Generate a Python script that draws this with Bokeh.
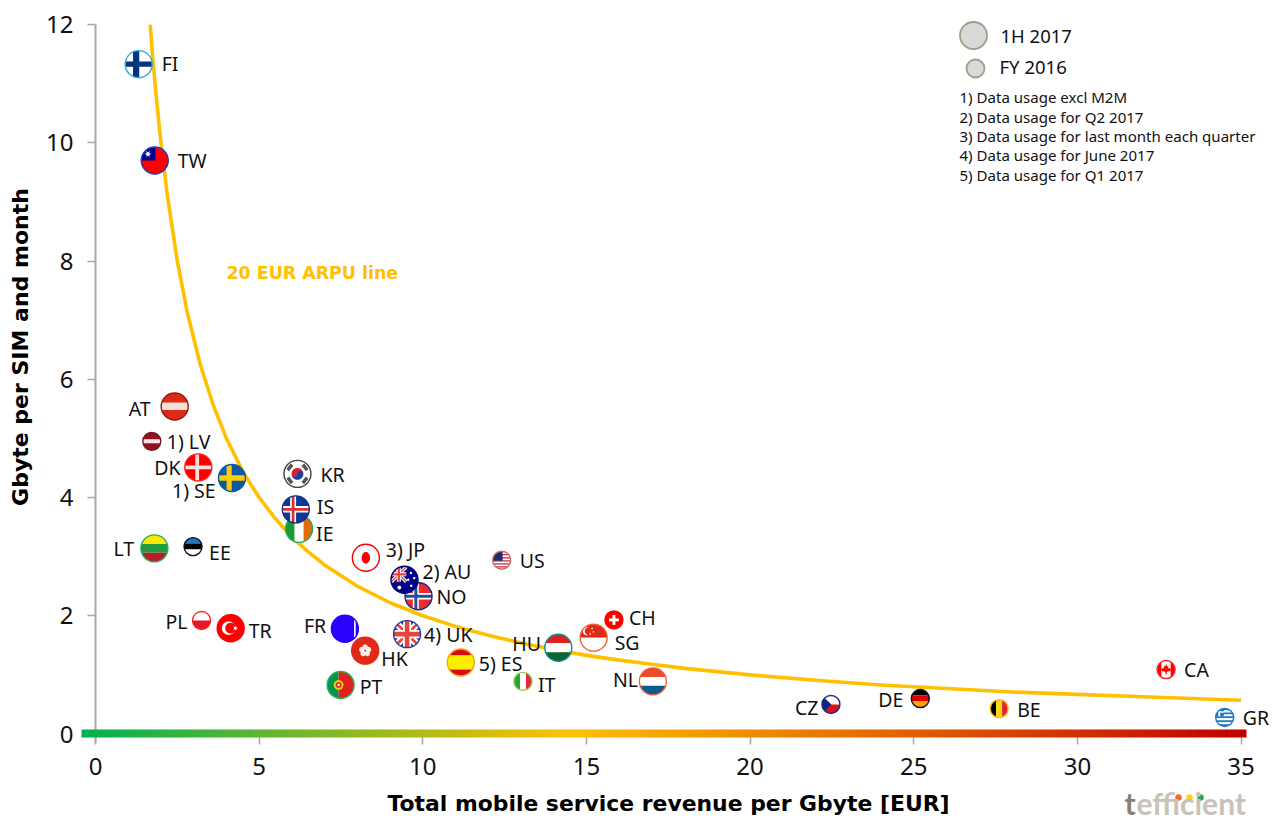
import math
from bokeh.plotting import figure
from bokeh.models import Label, Range1d, FixedTicker
from bokeh.core.properties import value
from bokeh.embed import file_html
from bokeh.resources import INLINE

# ---------- data ----------
countries = ["FI","TW","AT","LV","DK","SE","KR","IE","IS","LT","EE","JP","NO","AU","US","PL","TR","FR","HK","UK",
             "ES","PT","IT","HU","SG","CH","NL","CZ","DE","BE","CA","GR"]
revenue_per_gb = [1.32,1.81,2.42,1.72,3.14,4.17,6.17,6.22,6.12,1.80,2.98,8.26,9.87,9.44,12.41,3.24,4.13,7.62,8.24,9.52,
                  11.16,7.49,13.06,14.14,15.22,15.84,17.03,22.47,25.20,27.61,32.71,34.50]
gb_per_sim = [11.33,9.70,5.54,4.95,4.51,4.33,4.40,3.47,3.80,3.14,3.17,2.98,2.33,2.61,2.94,1.92,1.79,1.78,1.41,1.69,
              1.21,0.83,0.89,1.46,1.63,1.93,0.89,0.50,0.60,0.43,1.09,0.28]
period = ["H","H","H","F","H","H","H","H","H","H","F","H","H","H","F","F","H","H","H","H",
          "H","H","F","H","H","F","H","F","F","F","F","F"]
label_texts = {"LV":"1) LV","SE":"1) SE","JP":"3) JP","AU":"2) AU","UK":"4) UK","ES":"5) ES"}
arpu_x = [1.67,1.75,1.85,2,2.2,2.5,2.8,3.2,3.6,4,4.5,5,5.5,6,6.5,7,8,9,10,11,12,13,14,15,16,17,18,20,22,24,26,28,30,32,35]
arpu_y = [12,11.43,10.81,10,9.09,8,7.14,6.25,5.56,5,4.44,4,3.64,3.33,3.08,2.86,2.5,2.22,2,1.82,1.67,1.54,1.43,1.33,1.25,
          1.18,1.11,1,0.91,0.83,0.77,0.71,0.67,0.63,0.57]
x_ticks = [0,5,10,15,20,25,30,35]
y_ticks = [0,2,4,6,8,10,12]
notes = ["1) Data usage excl M2M","2) Data usage for Q2 2017","3) Data usage for last month each quarter",
         "4) Data usage for June 2017","5) Data usage for Q1 2017"]

# ---------- layout ----------
W, H = 1277, 821
X0, SX = 95.0, 32.73      # pixel of x=0, px per unit
Y0, SY = 733.5, 59.12     # pixel of y=0, px per unit
FONT = "Noto Sans"
px2x = lambda px: (px - X0) / SX
px2y = lambda py: (Y0 - py) / SY

# label position (left edge, centre line) relative to the marker, in px
label_off = {"FI":(23,-1),"TW":(23,0),"AT":(-46,2),"LV":(15,0.5),"DK":(-44,0.5),"SE":(-60,12),"KR":(23,1),"IE":(17,4.5),"IS":(21,-3),
             "LT":(-41,0),"EE":(16,6),"JP":(20,-8),"NO":(18,0),"AU":(18,-8),"US":(18,0),"PL":(-36,1),"TR":(18,2),"FR":(-41,-3),
             "HK":(16,8),"UK":(17,0),"ES":(18,1.5),"PT":(19,2),"IT":(15,3),"HU":(-46,-4),"SG":(21,5),"CH":(15,-2),"NL":(-40,-2),
             "CZ":(-36,3),"DE":(-42,1),"BE":(18,1),"CA":(18,0),"GR":(18,0)}

# ---------- flag drawing helpers (unit circle coordinates) ----------
def rect(u0,v0,u1,v1): return [(u0,v0),(u1,v0),(u1,v1),(u0,v1)]
def disc(cu,cv,r,n=36,rv=None):
    rv = r if rv is None else rv
    return [(cu+r*math.cos(2*math.pi*i/n),cv+rv*math.sin(2*math.pi*i/n)) for i in range(n)]
def band(a,b,w):
    dx,dy=b[0]-a[0],b[1]-a[1]; l=math.hypot(dx,dy); nx,ny=-dy/l*w,dx/l*w
    return [(a[0]+nx,a[1]+ny),(b[0]+nx,b[1]+ny),(b[0]-nx,b[1]-ny),(a[0]-nx,a[1]-ny)]
def star(cu,cv,r,k=5):
    return [(cu+(r if i%2==0 else r*.42)*math.cos(math.pi*i/k),cv+(r if i%2==0 else r*.42)*math.sin(math.pi*i/k)) for i in range(2*k)]
def hbands(cols,edges):
    return [(c,rect(-1.1,edges[i+1],1.1,edges[i])) for i,c in enumerate(cols)]
def vbands(cols,edges):
    return [(c,rect(edges[i],-1.1,edges[i+1],1.1)) for i,c in enumerate(cols)]
def cross(bg,vu0,vu1,hw,col,inner=None,iw=0):
    out=[(bg,rect(-1.1,-1.1,1.1,1.1)),(col,rect(vu0,-1.1,vu1,1.1)),(col,rect(-1.1,-hw,1.1,hw))]
    if inner:
        m=(vu0+vu1)/2
        out+=[(inner,rect(m-iw,-1.1,m+iw,1.1)),(inner,rect(-1.1,-iw,1.1,iw))]
    return out
def jack(f=lambda u,v:(u,v),bg="#1B3A93"):
    m=lambda poly:[f(u,v) for u,v in poly]
    return [(bg,m(rect(-1.1,-1.1,1.1,1.1))),
            ("#FFFFFF",m(band((-1.1,-1.1),(1.1,1.1),.26))),("#FFFFFF",m(band((-1.1,1.1),(1.1,-1.1),.26))),
            ("#E8453C",m(band((-1.1,-1.1),(1.1,1.1),.1))),("#E8453C",m(band((-1.1,1.1),(1.1,-1.1),.1))),
            ("#FFFFFF",m(rect(-.3,-1.1,.3,1.1))),("#FFFFFF",m(rect(-1.1,-.3,1.1,.3))),
            ("#E8453C",m(rect(-.17,-1.1,.17,1.1))),("#E8453C",m(rect(-1.1,-.17,1.1,.17)))]
aust = lambda u,v:(u*.5-.42,v*.5+.4)
leaf = [(0,.62),(.12,.34),(.26,.42),(.2,.08),(.34,.2),(.56,.02),(.46,-.16),(.08,-.24),(.06,-.55),(-.06,-.55),(-.08,-.24),
        (-.46,-.16),(-.56,.02),(-.34,.2),(-.2,.08),(-.26,.42),(-.12,.34)]

flags = {
 "FI":("#29ABE2",cross("#FFFFFF",-.42,.04,.2,"#003580")),
 "TW":("#1B3FBF",[("#FE0000",rect(-1.1,-1.1,1.1,1.1)),("#000095",rect(-1.1,0,.05,1.1)),("#FFFFFF",star(-.5,.48,.26,6))]),
 "AT":("#8E1C10",hbands(["#DD2A16","#F6E0D8","#DD2A16"],[1.1,.27,-.27,-1.1])),
 "LV":("#7B1420",hbands(["#8E1520","#F5E5E5","#8E1520"],[1.1,.2,-.2,-1.1])),
 "DK":("#FF2020",cross("#FF0000",-.22,.06,.14,"#FBE0E0")),
 "SE":("#0B5AA5",cross("#0B5AA5",-.4,-.02,.2,"#FFCC00")),
 "KR":("#444444",[("#FFFFFF",rect(-1.1,-1.1,1.1,1.1)),("#D5232F",[(u,v) for u,v in disc(0,0,.44) if v>=-.05]),
                  ("#1045A5",[(u,v) for u,v in disc(0,0,.44) if v<=-.0]),("#D5232F",disc(-.2,0,.22)),("#1045A5",disc(.2,-.02,.22)),
                  ("#555555",band((-.72,.28),(-.4,.68),.13)),("#555555",band((.72,.28),(.4,.68),.13)),
                  ("#555555",band((-.72,-.28),(-.4,-.68),.13)),("#555555",band((.72,-.28),(.4,-.68),.13))]),
 "IE":("#22B14C",vbands(["#169B3A","#FFFFFF","#E5690F"],[-1.1,-.33,.33,1.1])),
 "IS":("#12307E",cross("#0A3A99",-.42,.02,.24,"#FFFFFF","#E0312F",.1)),
 "LT":("#27AE60",hbands(["#FDE900","#239B3F","#B81C2B"],[1.1,.33,-.33,-1.1])),
 "EE":("#111111",hbands(["#2472C8","#000000","#FFFFFF"],[1.1,.33,-.33,-1.1])),
 "JP":("#FF0000",[("#FFFFFF",rect(-1.1,-1.1,1.1,1.1)),("#FF0000",disc(0,0,.31,rv=.43))]),
 "NO":("#12307E",cross("#EF2B2D",-.42,.02,.24,"#FFFFFF","#22509C",.11)),
 "AU":("#00007F",[("#00008B",rect(-1.1,-1.1,1.1,1.1))]+jack(aust,"#00008B")+[("#FFFFFF",disc(.48,.5,.09)),("#FFFFFF",disc(.72,.12,.09)),("#FFFFFF",disc(.28,.0,.09)),
                                       ("#FFFFFF",disc(.5,-.45,.09)),("#FFFFFF",disc(-.38,-.58,.14))]),
 "US":("#D06A70",hbands(["#C8303C","#FFFFFF"]*6+["#C8303C"],[1.1,.85,.68,.51,.34,.17,0,-.17,-.34,-.51,-.68,-.85,-.95,-1.1])+[("#1F2A70",rect(-1.1,-.05,.1,1.1))]),
 "PL":("#FF2020",hbands(["#FFFFFF","#E8142E"],[1.1,0,-1.1])),
 "TR":("#FF0000",[("#FF0000",rect(-1.1,-1.1,1.1,1.1)),("#FFFFFF",disc(-.15,0,.5)),("#FF0000",disc(0,0,.4)),("#FFFFFF",star(.35,0,.2))]),
 "FR":("#2A00FF",[("#2A00FF",rect(-1.1,-1.1,1.1,1.1)),("#FFFFFF",rect(.68,-1.1,.8,1.1))]),
 "HK":("#E02A18",[("#E02A18",rect(-1.1,-1.1,1.1,1.1))]+[("#FDEDEA",disc(.26*math.cos(1.57+i*1.2566),.26*math.sin(1.57+i*1.2566),.2)) for i in range(5)]),
 "UK":("#2A3F9C",jack()),
 "ES":("#FFA20A",hbands(["#D80C18","#FFEE00","#D80C18"],[1.1,.52,-.52,-1.1])),
 "PT":("#2EAE5E",vbands(["#00964B","#E0201F"],[-1.1,-.15,1.1])+[("#F2D000",disc(-.15,0,.36)),("#E0201F",disc(-.15,0,.22)),("#FFFFFF",disc(-.15,0,.1))]),
 "IT":("#8CCB4A",vbands(["#1FA83C","#FFFFFF","#E02B36"],[-1.1,-.33,.33,1.1])),
 "HU":("#168C8C",hbands(["#DF1F1F","#FFFFFF","#0B6630"],[1.1,.33,-.33,-1.1])),
 "SG":("#EE6633",hbands(["#E02A18","#FFFFFF"],[1.1,0,-1.1])+[("#FFFFFF",disc(-.5,.48,.3)),("#E02A18",disc(-.38,.48,.28)),
                                                            ("#FFFFFF",disc(-.12,.68,.06)),("#FFFFFF",disc(-.02,.42,.06)),("#FFFFFF",disc(-.26,.28,.06))]),
 "CH":("#FF0000",[("#FF0000",rect(-1.1,-1.1,1.1,1.1)),("#FFFFFF",rect(-.16,-.55,.16,.55)),("#FFFFFF",rect(-.55,-.16,.55,.16))]),
 "NL":("#EE6633",hbands(["#EA4B2D","#FFFFFF","#0B5B8F"],[1.1,.33,-.33,-1.1])),
 "CZ":("#1B2E80",hbands(["#FFFFFF","#D7141A"],[1.1,0,-1.1])+[("#11277E",[(-1.1,1.1),(.05,0),(-1.1,-1.1)])]),
 "DE":("#111111",hbands(["#000000","#DD0000","#FFA500"],[1.1,.33,-.33,-1.1])),
 "BE":("#FDB813",vbands(["#000000","#FFD90C","#E8202E"],[-1.1,-.33,.33,1.1])),
 "CA":("#FF2020",vbands(["#FF0000","#FFFFFF","#FF0000"],[-1.1,-.5,.5,1.1])+[("#FF0000",leaf)]),
 "GR":("#1F78C8",hbands(["#1F78C8","#FFFFFF"]*4+["#1F78C8"],[1.1,.78,.56,.34,.12,-.1,-.32,-.54,-.76,-1.1])+
                [("#1F78C8",rect(-1.1,.12,-.1,1.1)),("#FFFFFF",rect(-.7,.12,-.5,1.1)),("#FFFFFF",rect(-1.1,.52,-.1,.7))]),
}

def clip_poly(poly, r_clip=1.0, n=48):
    """Sutherland-Hodgman clip of a unit polygon to the (polygonal) unit circle."""
    ring=[(r_clip*math.cos(2*math.pi*i/n),r_clip*math.sin(2*math.pi*i/n)) for i in range(n)]
    out=list(poly)
    for i in range(n):
        a,b=ring[i],ring[(i+1)%n]
        inside=lambda p:(b[0]-a[0])*(p[1]-a[1])-(b[1]-a[1])*(p[0]-a[0])>=0
        def isect(p,q):
            d1=(b[0]-a[0])*(p[1]-a[1])-(b[1]-a[1])*(p[0]-a[0])
            d2=(b[0]-a[0])*(q[1]-a[1])-(b[1]-a[1])*(q[0]-a[0])
            t=d1/(d1-d2)
            return (p[0]+t*(q[0]-p[0]),p[1]+t*(q[1]-p[1]))
        res=[]
        for k,p in enumerate(out):
            q=out[(k+1)%len(out)]
            if inside(p):
                res.append(p)
                if not inside(q): res.append(isect(p,q))
            elif inside(q):
                res.append(isect(p,q))
        out=res
        if not out: break
    return out

# ---------- figure ----------
p = figure(width=W, height=H, output_backend="svg", toolbar_location=None,
           x_range=Range1d(px2x(0), px2x(W)), y_range=Range1d(px2y(H), px2y(0)),
           min_border=0, outline_line_color=None, background_fill_color="#FFFFFF")
p.grid.visible = False

TICK_COL = "#A8A8A8"
p.xaxis.fixed_location = 0
p.yaxis.fixed_location = 0
p.xaxis.ticker = FixedTicker(ticks=x_ticks)
p.yaxis.ticker = FixedTicker(ticks=y_ticks)
p.xaxis.bounds = (0, 35)
p.yaxis.bounds = (-0.16, 12)
for ax in (p.xaxis[0], p.yaxis[0]):
    ax.major_tick_in = 0
    ax.minor_tick_line_color = None
    ax.major_tick_line_color = TICK_COL
    ax.major_tick_line_width = 1.5
    ax.major_label_text_font = FONT
    ax.major_label_text_font_size = "24px"
    ax.major_label_text_color = "#111111"
    ax.axis_label_text_font = "DejaVu Sans"
    ax.axis_label_text_font_style = "bold"
    ax.axis_label_text_color = "#000000"
p.xaxis.axis_line_color = None
p.xaxis.major_tick_out = 10
p.xaxis.major_label_standoff = 14
p.xaxis.axis_label = "Total mobile service revenue per Gbyte [EUR]"
p.xaxis.axis_label_text_font_size = "21.9px"
p.xaxis.axis_label_standoff = 12
p.yaxis.axis_line_color = TICK_COL
p.yaxis.axis_line_width = 2
p.yaxis.major_tick_out = 8
p.yaxis.major_label_standoff = 14

# gradient band along the x axis
stops = [(0.0,(0,176,80)),(0.42,(255,192,0)),(1.0,(192,0,0))]
def grad(t):
    for (t0,c0),(t1,c1) in zip(stops,stops[1:]):
        if t<=t1:
            f=(t-t0)/(t1-t0)
            return "#%02X%02X%02X"%tuple(round(a+(b-a)*f) for a,b in zip(c0,c1))
    return "#C00000"
N=233; bl=81.0; br=1246.0; st=(br-bl)/N
p.quad(left=[px2x(bl+i*st) for i in range(N)], right=[px2x(bl+(i+1)*st+(0.5 if i<N-1 else 0)) for i in range(N)],
       bottom=[px2y(737)]*N, top=[px2y(729)]*N, fill_color=[grad((i+.5)/N) for i in range(N)], line_color=None, level="annotation")

# ARPU curve
p.line(arpu_x, arpu_y, line_color="#FFC000", line_width=3.6, line_join="round")

# flags
RB, RS = 13.5, 9.0
for c,x,y,per in zip(countries,revenue_per_gb,gb_per_sim,period):
    r = RB if per=="H" else RS
    ring,parts = flags[c]
    xs,ys,cols=[],[],[]
    for col,poly in parts:
        q=clip_poly(poly)
        if not q: continue
        xs.append([x+u*r/SX for u,v in q]); ys.append([y+v*r/SY for u,v in q]); cols.append(col)
    p.patches(xs,ys,fill_color=cols,line_color=None)
    p.scatter([x],[y],size=2*r,marker="circle",fill_color=None,line_color=ring,line_width=1.4)

# country labels
tx,ty,tt,ox,oy=[],[],[],[],[]
for c,x,y in zip(countries,revenue_per_gb,gb_per_sim):
    tx.append(x);ty.append(y);tt.append(label_texts.get(c,c));ox.append(label_off[c][0]);oy.append(label_off[c][1])
p.text(tx,ty,text=tt,x_offset=ox,y_offset=oy,text_font=value(FONT),text_font_size="19.5px",text_color="#111111",
       text_align="left",text_baseline="middle")

def lab(txt,x,y,size,color="#111111",style="normal",font=FONT,angle=0,align="left"):
    p.add_layout(Label(x=x,y=H-y,x_units="screen",y_units="screen",text=txt,text_font=font,text_font_size=size,
                       text_color=color,text_font_style=style,text_baseline="middle",text_align=align,angle=angle))

lab("Gbyte per SIM and month",19.5,346.5,"22px","#000000","bold","DejaVu Sans",math.pi/2,"center")
lab("20 EUR ARPU line",226,272,"17.4px","#FFC000","bold","DejaVu Sans")
# legend
for cx,cy,d in ((973,35,27),(975,68,18)):
    p.scatter([px2x(cx)],[px2y(cy)],size=d,marker="circle",fill_color="#D9D9D9",line_color="#A59B8C",line_width=1.8)
lab("1H 2017",1000,35,"18.5px")
lab("FY 2016",999,66,"18.5px")
for t,y in zip(notes,(96,116,135,154,174)):
    lab(t,959,y,"15.05px")
# logo
lab("t",1124,802.5,"30px","#8C7F70","bold","Lato")
lab("efficient",1136,802.5,"30px","#C8C2B8","bold","Lato")
for cx,col in ((1178,"#F0693A"),(1189,"#FFD21F"),(1200,"#22A85A")):
    p.scatter([px2x(cx)],[px2y(797)],size=6.5,marker="circle",fill_color=col,line_color=None)

open("out.html","w").write(file_html(p, INLINE))
